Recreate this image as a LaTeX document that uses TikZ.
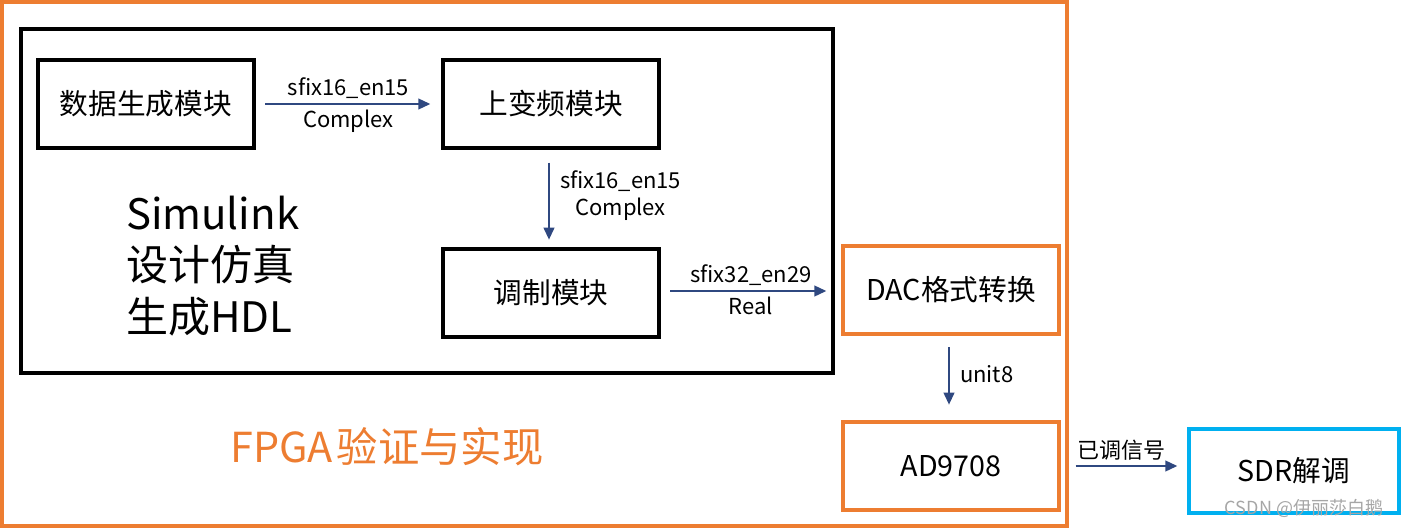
\documentclass[tikz,border=0pt]{standalone}
\usepackage{fontspec}
\setmainfont{Noto Sans CJK SC}
\usetikzlibrary{arrows.meta}

\definecolor{fpgaorange}{RGB}{237,125,49}
\definecolor{sdrblue}{RGB}{0,176,240}
\definecolor{flowblue}{RGB}{47,72,128}

\begin{document}
\begin{tikzpicture}[x=0.75pt, y=-0.75pt, line width=3pt,
    block/.style={draw, line width=3pt, minimum width=162pt, minimum height=66pt,
      inner sep=0pt, font=\fontsize{21.5}{26}\selectfont},
    flow/.style={-{Triangle[length=9pt, width=8pt]}, line width=1.5pt, flowblue,
      shorten <=7pt, shorten >=8pt},
    tag/.style={text=black, font=\fontsize{16.5}{20.5}\selectfont, inner sep=3.5pt}]
  \useasboundingbox (0,0) rectangle (1404,529);

  % FPGA frame and Simulink frame
  \draw[fpgaorange] (2,2) rectangle (1067,526);
  \draw[black] (21,29) rectangle (833,373);

  % Simulink blocks
  \node[block] (gen) at (146,104) {数据生成模块};
  \node[block] (upc) at (551,104) {上变频模块};
  \node[block] (mod) at (551,293) {调制模块};

  % FPGA blocks
  \node[block, draw=fpgaorange] (dac) at (951,290) {DAC格式转换};
  \node[block, draw=fpgaorange] (dav) at (951,466) {AD9708};

  % SDR receiver
  \node[block, draw=sdrblue, minimum width=158pt, minimum height=63pt] (sdr) at (1294,471) {SDR解调};

  % Frame texts
  \node[anchor=west, align=left, inner sep=0pt,
    font=\fontsize{31.5}{38.5}\selectfont] (simtxt) at (124,266) {Simulink\\设计仿真\\生成HDL};
  \node[text=fpgaorange, font=\fontsize{31}{36}\selectfont] (fpgatxt) at (387,447) {FPGA\hspace{3pt}验证与实现};

  % Signal flow
  \draw[flow] (gen.east) -- (upc.west)
    node[tag, midway, above] {sfix16\_en15}
    node[tag, midway, below] {Complex};
  \draw[flow, shorten <=11pt, shorten >=7pt] (549,148) coordinate (upcout) -- (549,249) coordinate (modin)
    node[tag, midway, right, align=center, xshift=4pt, yshift=2pt] {sfix16\_en15\\Complex};
  \draw[flow, shorten <=7pt, shorten >=11pt] (mod.east |- 0,291) coordinate (modout) -- (dac.west |- 0,291) coordinate (dacin)
    node[tag, midway, above] {sfix32\_en29}
    node[tag, midway, below] {Real};
  \draw[flow, shorten <=10pt, shorten >=13pt] (949,334) coordinate (dacout) -- (949,422) coordinate (davin)
    node[tag, midway, right, xshift=4pt, yshift=3pt] {unit8};
  \draw[flow, shorten <=11pt, shorten >=7pt] (dav.east) -- (sdr.west |- dav.east)
    node[tag, midway, above, xshift=-2pt] {已调信号};

  % watermark
  \node[text=black!35, font=\fontsize{13.5}{16}\selectfont] (mark) at (1304,508) {CSDN @伊丽莎白鹅};
\end{tikzpicture}
\end{document}
